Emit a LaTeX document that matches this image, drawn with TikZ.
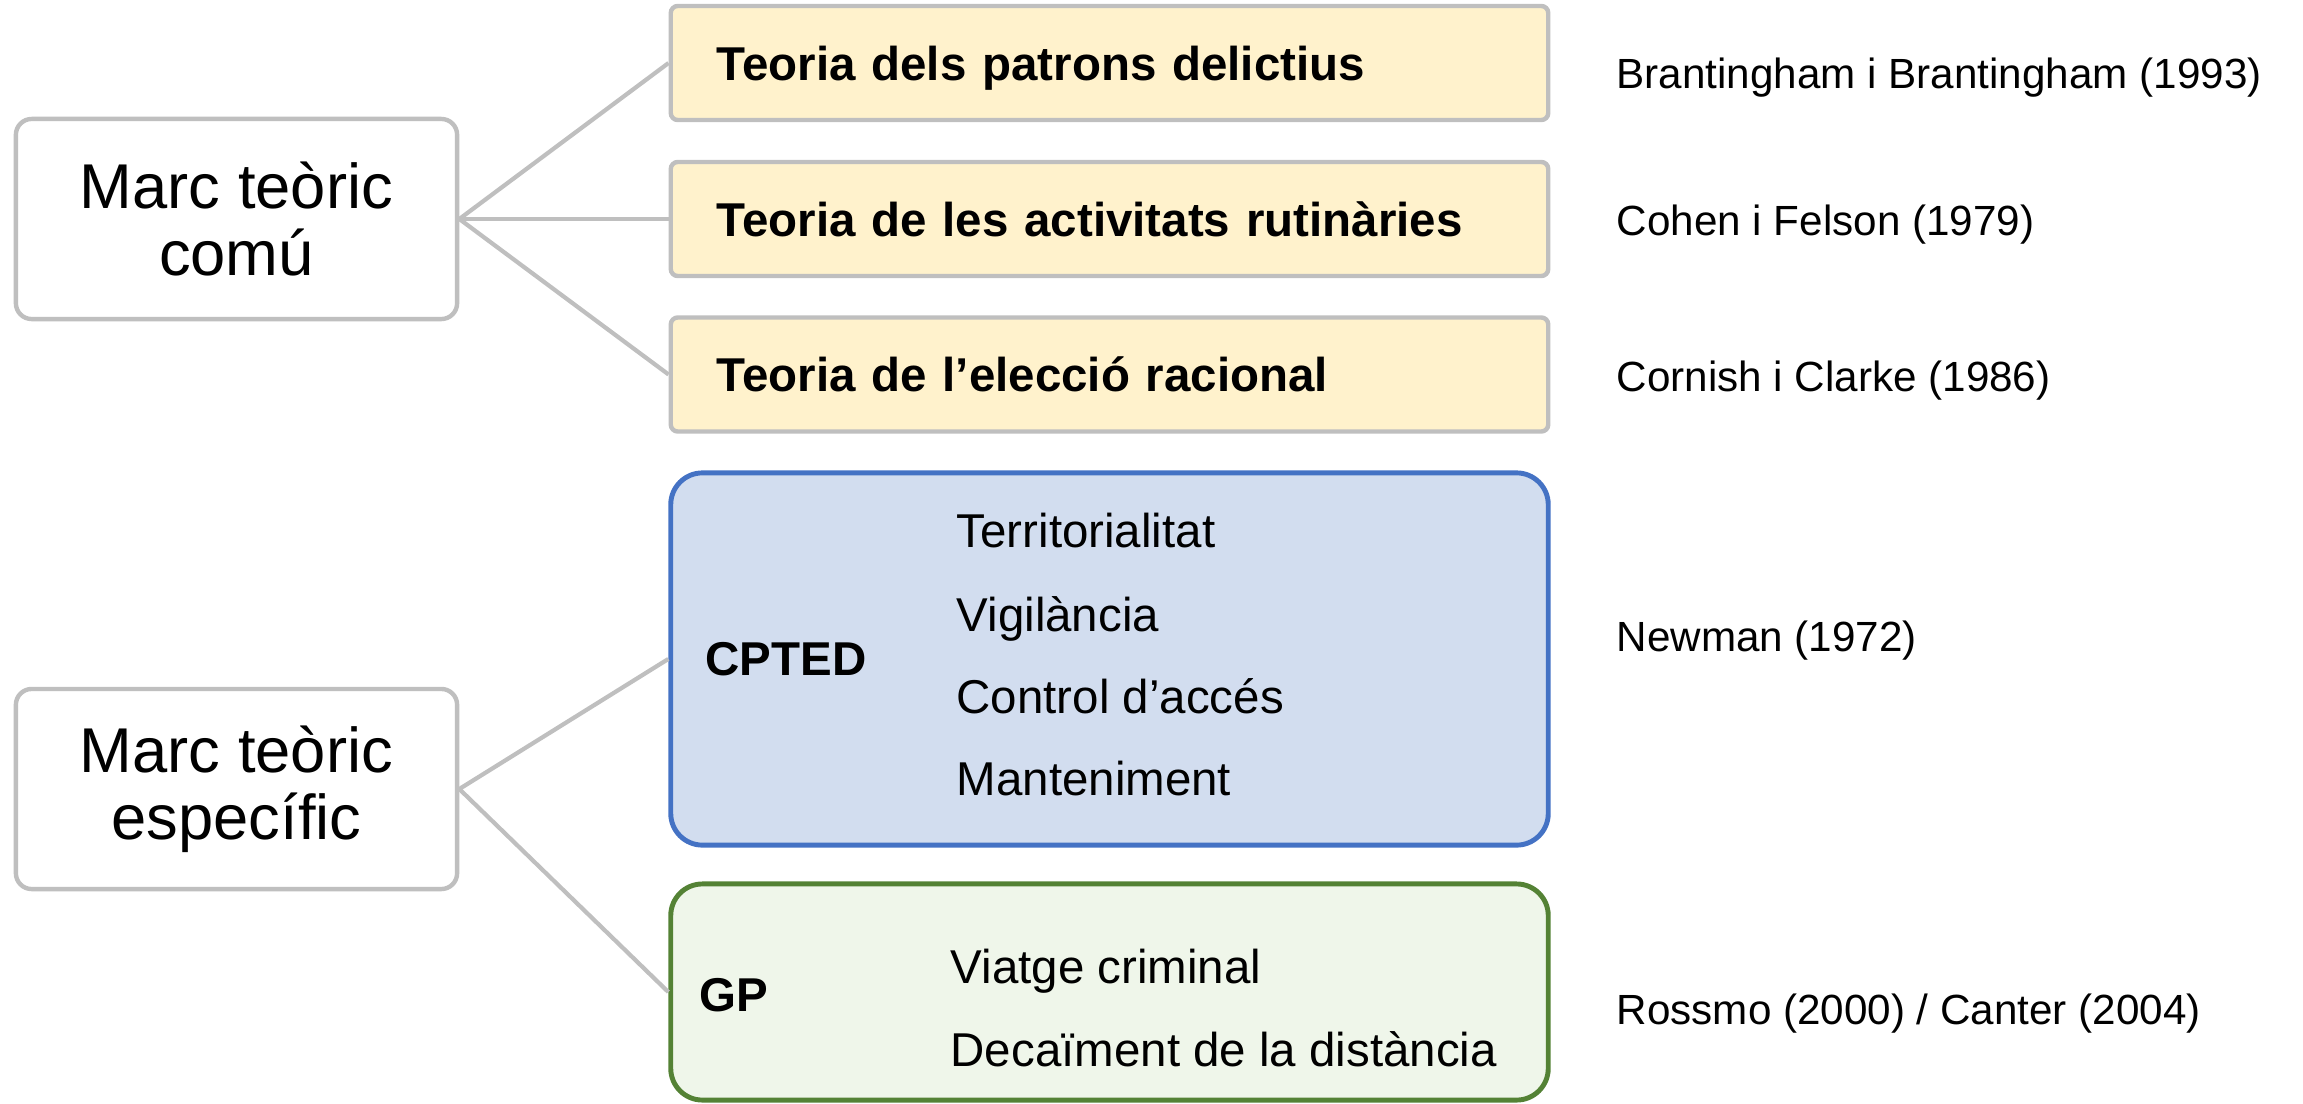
\documentclass[tikz,border=0pt]{standalone}
\usepackage{fontspec}
\setmainfont{Liberation Sans}
\usepackage{tikz}
\usetikzlibrary{positioning}

\definecolor{boxgray}{HTML}{BFBFBF}
\definecolor{teoryellow}{HTML}{FFF2CC}
\definecolor{cptedfill}{HTML}{D2DDEF}
\definecolor{cptedline}{HTML}{4472C4}
\definecolor{gpfill}{HTML}{EFF6EA}
\definecolor{gpline}{HTML}{548235}

\tikzset{
    marcbox/.style={draw=boxgray, line width=1.25pt, fill=white, rounded corners=4.5pt,
        minimum width=4.41cm, minimum height=2cm, align=center,
        font=\fontsize{18}{19}\selectfont},
    teorbox/.style={draw=boxgray, line width=1.25pt, fill=teoryellow, rounded corners=2pt,
        minimum width=8.77cm, minimum height=1.14cm, text width=7.85cm, align=left,
        inner xsep=0.46cm, text height=12.8pt, text depth=3pt,
        font=\bfseries\fontsize{13.5}{16}\selectfont},
    grupbox/.style={line width=1.4pt, rounded corners=9pt, minimum width=8.77cm},
    etiq/.style={anchor=west, inner sep=0pt, text height=12.8pt, text depth=3pt,
        font=\bfseries\fontsize{13.5}{16}\selectfont},
    item/.style={anchor=west, inner sep=0pt, text height=12.8pt, text depth=3pt,
        font=\fontsize{13.5}{16}\selectfont},
    autor/.style={anchor=west, inner sep=0pt, text height=10.2pt, text depth=3pt,
        font=\fontsize{12}{14}\selectfont},
    branca/.style={draw=boxgray, line width=1.2pt}
}

\begin{document}
\begin{tikzpicture}[x=0.01cm, y=-0.01cm]
    \useasboundingbox (0,0) rectangle (2303,1103);

    % marc teoric comu
    \node[marcbox] (comu) at (236.5,219) {Marc teòric\\comú};
    \node[teorbox] (patrons) at (1109.5,63) {Teoria dels patrons delictius};
    \node[teorbox] (rutines) at (1109.5,219) {Teoria de les activitats rutinàries};
    \node[teorbox] (eleccio) at (1109.5,374.5) {Teoria de l’elecció racional};

    \draw[branca] (comu.east) -- (patrons.west);
    \draw[branca] (comu.east) -- (rutines.west);
    \draw[branca] (comu.east) -- (eleccio.west);

    % marc teoric especific
    \node[marcbox] (especific) at (236.5,789) {Marc teòric\\específic};
    \node[grupbox, draw=cptedline, fill=cptedfill, minimum height=3.72cm] (cpted) at (1109.5,659) {};
    \node[grupbox, draw=gpline, fill=gpfill, minimum height=2.16cm] (gp) at (1109.5,992) {};

    \draw[branca] (especific.east) -- (cpted.west);
    \draw[branca] (especific.east) -- (gp.west);

    \node[etiq] (cptedlab) at (705,658) {CPTED};
    \node[item] (territ) at (956,530) {Territorialitat};
    \node[item] (vigil) at (956,614) {Vigilància};
    \node[item] (control) at (956,696) {Control d’accés};
    \node[item] (mant) at (956,778) {Manteniment};

    \node[etiq] (gplab) at (699,994) {GP};
    \node[item] (viatge) at (950,966) {Viatge criminal};
    \node[item] (decai) at (950,1049) {Decaïment de la distància};

    % autors
    \node[autor] (aut1) at (1616,76) {Brantingham i Brantingham (1993)};
    \node[autor] (aut2) at (1616,223) {Cohen i Felson (1979)};
    \node[autor] (aut3) at (1616,379) {Cornish i Clarke (1986)};
    \node[autor] (aut4) at (1616,639) {Newman (1972)};
    \node[autor] (aut5) at (1616,1012) {Rossmo (2000) / Canter (2004)};
\end{tikzpicture}
\end{document}
